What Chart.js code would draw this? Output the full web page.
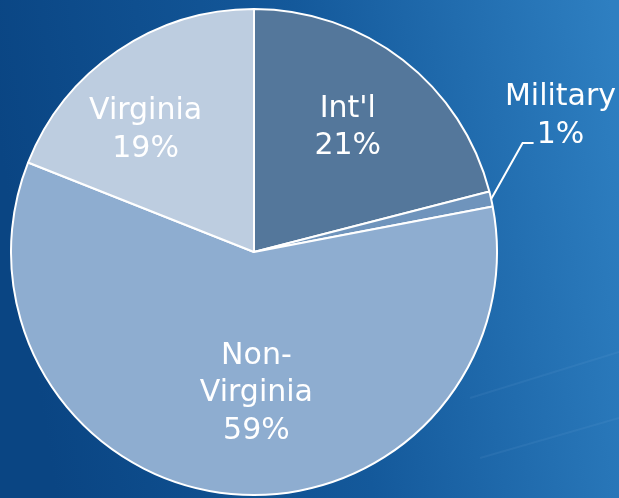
<!DOCTYPE html>
<html>
<head>
<meta charset="utf-8">
<script src="https://cdn.jsdelivr.net/npm/chart.js@4"></script>
<style>
    html, body { margin: 0; padding: 0; background: #0d4a88; }
    #wrap { width: 619px; height: 498px; position: relative; }
</style>
</head>
<body>
<div id="wrap"><canvas id="pieChart"></canvas></div>
<script>
// Data
const categories = ["Int'l", 'Military', 'Non-Virginia', 'Virginia'];
const shares = [21, 1, 59, 19];
const labelLines = [["Int'l"], ['Military'], ['Non-', 'Virginia'], ['Virginia']];
const sliceColors = ['#54779b', '#6f94bc', '#8eadd0', '#bdcde0'];

// where each label sits: fraction of radius and angle (deg, clockwise from top)
const labelSpots = [
    { f: 0.65, a: 36.4 },
    { f: 1.385, a: 65.6, leader: { f: 1.193, a: 67.9, tail: 11 } },
    { f: 0.57, a: 179 },
    { f: 0.68, a: 319 }
];

// Background gradient + faint streaks
const bgPlugin = {
    id: 'bg',
    beforeDraw(chart) {
        const c = chart.ctx;
        const w = chart.width, h = chart.height;
        const g = c.createLinearGradient(0, h * 0.3, w, h * 0.1);
        g.addColorStop(0, '#0a4583');
        g.addColorStop(0.5, '#14599b');
        g.addColorStop(1, '#2e7fc1');
        c.save();
        c.fillStyle = g;
        c.fillRect(0, 0, w, h);
        c.strokeStyle = 'rgba(140, 190, 235, 0.09)';
        c.lineWidth = 2;
        c.beginPath();
        c.moveTo(470, 398); c.lineTo(w, 352);
        c.moveTo(480, 458); c.lineTo(w, 418);
        c.stroke();
        c.restore();
    }
};

// Slice labels
const labelPlugin = {
    id: 'sliceLabels',
    afterDatasetsDraw(chart) {
        const c = chart.ctx;
        const arcs = chart.getDatasetMeta(0).data;
        c.save();
        c.fillStyle = '#ffffff';
        c.strokeStyle = '#ffffff';
        c.font = '30px "DejaVu Sans"';
        c.textAlign = 'center';
        c.textBaseline = 'middle';
        arcs.forEach((arc, i) => {
            const p = arc.getProps(['x', 'y', 'outerRadius'], true);
            const s = labelSpots[i];
            const rad = s.a * Math.PI / 180;
            const lx = p.x + p.outerRadius * s.f * Math.sin(rad);
            const ly = p.y - p.outerRadius * s.f * Math.cos(rad) + 3;
            const lines = labelLines[i].concat([shares[i] + '%']);
            const lh = 37.5;
            const y0 = ly - (lines.length - 1) * lh / 2;
            lines.forEach((t, k) => c.fillText(t, lx, y0 + k * lh));

            if (s.leader) {
                const props = arc.getProps(['startAngle', 'endAngle'], true);
                const mid = (props.startAngle + props.endAngle) / 2;
                const ax = p.x + p.outerRadius * Math.cos(mid);
                const ay = p.y + p.outerRadius * Math.sin(mid);
                const er = s.leader.a * Math.PI / 180;
                const ex = p.x + p.outerRadius * s.leader.f * Math.sin(er);
                const ey = p.y - p.outerRadius * s.leader.f * Math.cos(er);
                c.lineWidth = 2;
                c.beginPath();
                c.moveTo(ax, ay);
                c.lineTo(ex, ey);
                c.lineTo(ex + s.leader.tail, ey);
                c.stroke();
            }
        });
        c.restore();
    }
};

const ctx = document.getElementById('pieChart').getContext('2d');
new Chart(ctx, {
    type: 'pie',
    data: {
        labels: categories,
        datasets: [{
            data: shares,
            backgroundColor: sliceColors,
            borderColor: '#ffffff',
            borderWidth: 2,
            hoverOffset: 0,
            radius: 243
        }]
    },
    options: {
        responsive: true,
        maintainAspectRatio: false,
        animation: false,
        events: [],
        layout: {
            padding: { left: 10, top: 9, right: 121, bottom: 3 }
        },
        plugins: {
            legend: { display: false },
            tooltip: { enabled: false }
        }
    },
    plugins: [bgPlugin, labelPlugin]
});
</script>
</body>
</html>
